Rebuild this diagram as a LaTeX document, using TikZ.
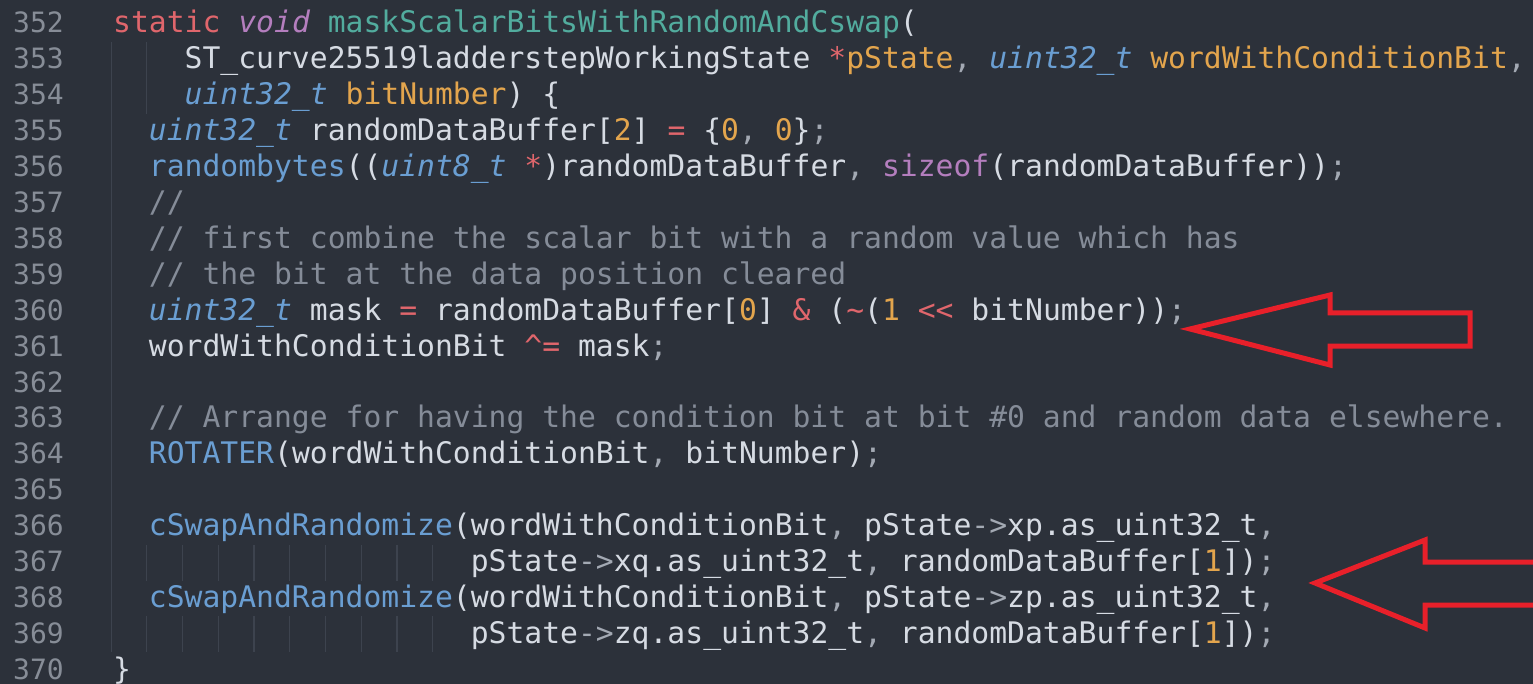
\documentclass[tikz,border=0pt]{standalone}
\usepackage{fontspec}
\setmonofont{DejaVu Sans Mono}
\definecolor{bgc}{HTML}{2C313A}
\definecolor{txc}{HTML}{D6DBE3}
\definecolor{lnc}{HTML}{878D97}
\definecolor{gdc}{HTML}{3D434E}
\definecolor{redc}{HTML}{E0666C}
\definecolor{orc}{HTML}{E3A54D}
\definecolor{blc}{HTML}{6A9ED2}
\definecolor{tec}{HTML}{52AC9E}
\definecolor{puc}{HTML}{B47EBE}
\definecolor{cmc}{HTML}{858C98}
\definecolor{grc}{HTML}{A3A9B3}
\definecolor{arc}{HTML}{E8202A}
\newcommand\cRed[1]{\textcolor{redc}{#1}}
\newcommand\cOr[1]{\textcolor{orc}{#1}}
\newcommand\cBl[1]{\textcolor{blc}{#1}}
\newcommand\cBlI[1]{\textcolor{blc}{\itshape #1}}
\newcommand\cTe[1]{\textcolor{tec}{#1}}
\newcommand\cPu[1]{\textcolor{puc}{#1}}
\newcommand\cPuI[1]{\textcolor{puc}{\itshape #1}}
\newcommand\cCm[1]{\textcolor{cmc}{#1}}
\newcommand\cGr[1]{\textcolor{grc}{#1}}
\begin{document}
\begin{tikzpicture}[x=1pt,y=-1pt,
  code/.style={anchor=base west,inner sep=0pt,text=txc,
    font=\ttfamily\fontsize{29.7}{36}\selectfont},
  lnum/.style={anchor=base east,inner sep=0pt,text=lnc,
    font=\ttfamily\fontsize{28}{36}\selectfont},
  guide/.style={draw=gdc,line width=1.2pt},
  bigarrow/.style={draw=arc,line width=5pt,line join=miter}]
\def\cw{17.88}
\def\xo{113}
\def\yo{33}
\def\lh{35.9}
\useasboundingbox (0,0) rectangle (1533,684);
\fill[bgc] (0,0) rectangle (1533,684);
% indent guides
\foreach \ln in {353,...,369}{
  \draw[guide] ({\xo-1.5},{\yo+(\ln-352)*\lh-27}) -- ({\xo-1.5},{\yo+(\ln-352)*\lh+9});}
\foreach \ln in {353,354}{
  \draw[guide] ({\xo+2*\cw-2},{\yo+(\ln-352)*\lh-27}) -- ({\xo+2*\cw-2},{\yo+(\ln-352)*\lh+9});}
\foreach \ln in {367,369}{
  \foreach \c in {2,4,...,18}{
    \draw[guide] ({\xo+\c*\cw-2},{\yo+(\ln-352)*\lh-27}) -- ({\xo+\c*\cw-2},{\yo+(\ln-352)*\lh+9});}}
% line numbers
\foreach \ln in {352,...,370}{
  \node[lnum] (n\ln) at (64,{\yo+(\ln-352)*\lh}) {\ln};}
% code
\node[code] (l352) at ({\xo+0*\cw},{\yo+0*\lh}) {\cRed{static} \cPuI{void} \cTe{maskScalarBitsWithRandomAndCswap}(};
\node[code] (l353) at ({\xo+4*\cw},{\yo+1*\lh}) {ST\_curve25519ladderstepWorkingState \cRed{*}\cOr{pState}\cGr{,} \cBlI{uint32\_t} \cOr{wordWithConditionBit}\cGr{,}};
\node[code] (l354) at ({\xo+4*\cw},{\yo+2*\lh}) {\cBlI{uint32\_t} \cOr{bitNumber}) \{};
\node[code] (l355) at ({\xo+2*\cw},{\yo+3*\lh}) {\cBlI{uint32\_t} randomDataBuffer[\cOr{2}] \cRed{=} \{\cOr{0}\cGr{,} \cOr{0}\}\cGr{;}};
\node[code] (l356) at ({\xo+2*\cw},{\yo+4*\lh}) {\cBl{randombytes}((\cBlI{uint8\_t} \cRed{*})randomDataBuffer\cGr{,} \cPu{sizeof}(randomDataBuffer))\cGr{;}};
\node[code] (l357) at ({\xo+2*\cw},{\yo+5*\lh}) {\cCm{//}};
\node[code] (l358) at ({\xo+2*\cw},{\yo+6*\lh}) {\cCm{// first combine the scalar bit with a random value which has}};
\node[code] (l359) at ({\xo+2*\cw},{\yo+7*\lh}) {\cCm{// the bit at the data position cleared}};
\node[code] (l360) at ({\xo+2*\cw},{\yo+8*\lh}) {\cBlI{uint32\_t} mask \cRed{=} randomDataBuffer[\cOr{0}] \cRed{\&} (\cRed{\textasciitilde}(\cOr{1} \cRed{<<} bitNumber))\cGr{;}};
\node[code] (l361) at ({\xo+2*\cw},{\yo+9*\lh}) {wordWithConditionBit \cRed{\textasciicircum=} mask\cGr{;}};
\node[code] (l363) at ({\xo+2*\cw},{\yo+11*\lh}) {\cCm{// Arrange for having the condition bit at bit \#0 and random data elsewhere.}};
\node[code] (l364) at ({\xo+2*\cw},{\yo+12*\lh}) {\cBl{ROTATER}(wordWithConditionBit\cGr{,} bitNumber)\cGr{;}};
\node[code] (l366) at ({\xo+2*\cw},{\yo+14*\lh}) {\cBl{cSwapAndRandomize}(wordWithConditionBit\cGr{,} pState\cGr{->}xp.as\_uint32\_t\cGr{,}};
\node[code] (l367) at ({\xo+20*\cw},{\yo+15*\lh}) {pState\cGr{->}xq.as\_uint32\_t\cGr{,} randomDataBuffer[\cOr{1}])\cGr{;}};
\node[code] (l368) at ({\xo+2*\cw},{\yo+16*\lh}) {\cBl{cSwapAndRandomize}(wordWithConditionBit\cGr{,} pState\cGr{->}zp.as\_uint32\_t\cGr{,}};
\node[code] (l369) at ({\xo+20*\cw},{\yo+17*\lh}) {pState\cGr{->}zq.as\_uint32\_t\cGr{,} randomDataBuffer[\cOr{1}])\cGr{;}};
\node[code] (l370) at ({\xo+0*\cw},{\yo+18*\lh}) {\}};
% red arrows
\draw[bigarrow] (1190,329) -- (1330,295) -- (1330,313) -- (1470,313) -- (1470,346) -- (1330,346) -- (1330,365) -- cycle;
\begin{scope}
\clip (0,0) rectangle (1533,684);
\draw[bigarrow] (1545,562) -- (1425,562) -- (1425,540) -- (1315,583) -- (1425,628) -- (1425,605) -- (1545,605);
\end{scope}
\end{tikzpicture}
\end{document}
